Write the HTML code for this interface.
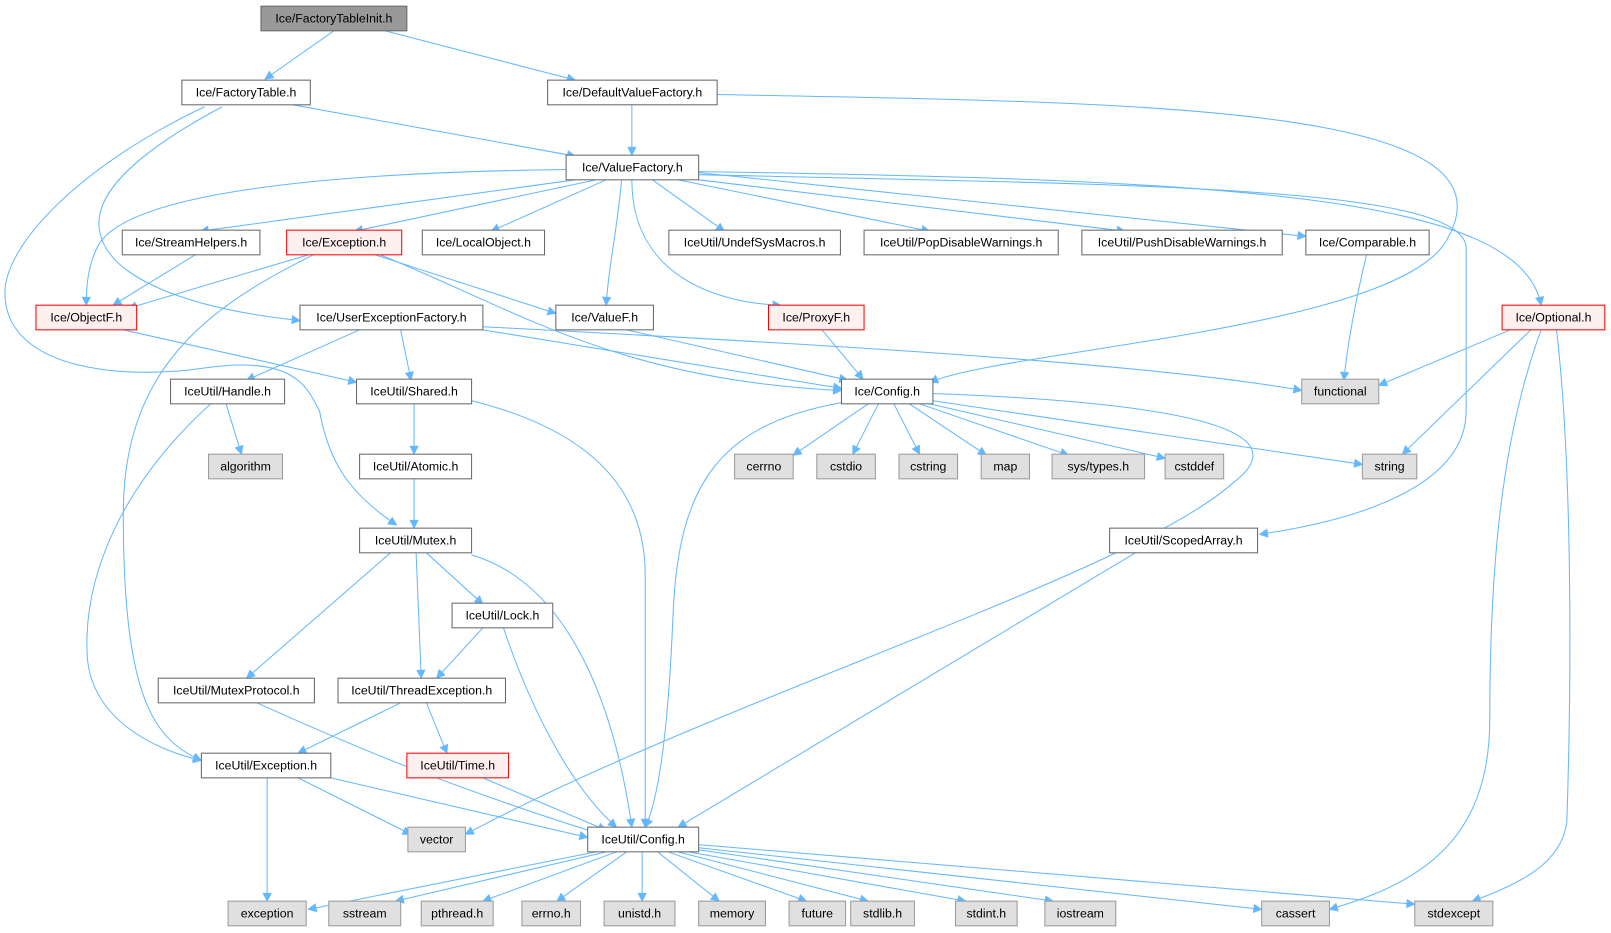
<!DOCTYPE html>
<html><head><meta charset="utf-8"><style>
html,body{margin:0;padding:0;background:#fff;}
svg{display:block}
text{font-family:"Liberation Sans",sans-serif;font-size:12px;text-anchor:middle;dominant-baseline:central;fill:#000}
.e{fill:none;stroke:#63b8ff;stroke-width:1;marker-end:url(#a)}
</style></head><body>
<svg width="1611" height="933" viewBox="0 0 1568 908" preserveAspectRatio="none">
<defs><marker id="a" viewBox="0 0 10 10" refX="9" refY="5" markerWidth="10" markerHeight="9" markerUnits="userSpaceOnUse" orient="auto"><path d="M0,0 L10,5 L0,10 z" fill="#63b8ff"/></marker></defs>
<g>
<path class="e" d="M325,30 L258,77"/>
<path class="e" d="M375,30 L560,78"/>
<path class="e" d="M285,102 L560,152"/>
<path class="e" d="M216,104 C130,150 90,190 97,225 C105,270 180,300 292,312"/>
<path class="e" d="M199,104 C80,160 0,240 5,290 C10,360 120,370 200,358 C290,345 300,380 311,400 C320,450 340,480 386,511"/>
<path class="e" d="M615,102 L615,151"/>
<path class="e" d="M698,92 C1100,100 1480,100 1410,230 C1370,320 980,340 905,372"/>
<path class="e" d="M551,165 C300,168 120,190 95,240 C85,260 84,280 84,297"/>
<path class="e" d="M560,175 L195,225"/>
<path class="e" d="M580,175 L345,225"/>
<path class="e" d="M590,175 L478,225"/>
<path class="e" d="M605,175 C600,230 592,260 590,297"/>
<path class="e" d="M635,175 L705,225"/>
<path class="e" d="M615,175 C615,270 700,295 760,297"/>
<path class="e" d="M660,175 L905,225"/>
<path class="e" d="M680,175 L1095,225"/>
<path class="e" d="M680,168 L1271,230"/>
<path class="e" d="M680,170 C1100,180 1420,180 1427,240 L1427,400 C1427,470 1330,505 1226,520"/>
<path class="e" d="M680,167 C1200,175 1480,190 1500,297"/>
<path class="e" d="M190,248 L110,297"/>
<path class="e" d="M300,248 L125,300"/>
<path class="e" d="M305,248 C200,300 120,360 120,500 C120,680 150,720 196,740"/>
<path class="e" d="M365,248 L541,305"/>
<path class="e" d="M370,248 C500,300 600,370 819,380"/>
<path class="e" d="M120,321 L347,372"/>
<path class="e" d="M350,321 L240,370"/>
<path class="e" d="M390,321 L400,370"/>
<path class="e" d="M470,321 L819,378"/>
<path class="e" d="M470,318 C700,330 1100,350 1267,380"/>
<path class="e" d="M610,321 L825,370"/>
<path class="e" d="M800,321 L840,369"/>
<path class="e" d="M830,390 C700,410 660,470 655,600 C650,720 640,780 628,805"/>
<path class="e" d="M845,393 L772,443"/>
<path class="e" d="M855,393 L830,442"/>
<path class="e" d="M870,393 L895,442"/>
<path class="e" d="M885,393 L960,443"/>
<path class="e" d="M895,393 L1040,443"/>
<path class="e" d="M905,393 L1134,446"/>
<path class="e" d="M908,390 L1326,452"/>
<path class="e" d="M908,383 C1100,390 1280,410 1200,470 C1100,560 700,680 453,812"/>
<path class="e" d="M1330,248 C1320,290 1312,330 1308,370"/>
<path class="e" d="M1470,321 L1342,375"/>
<path class="e" d="M1490,321 L1365,442"/>
<path class="e" d="M1500,321 C1460,430 1450,560 1450,700 C1450,820 1380,860 1294,885"/>
<path class="e" d="M1515,321 C1530,450 1530,650 1525,800 C1520,840 1480,860 1433,877"/>
<path class="e" d="M220,393 L235,442"/>
<path class="e" d="M205,393 C120,470 80,560 85,640 C90,700 150,730 196,740"/>
<path class="e" d="M403,393 L403,442"/>
<path class="e" d="M459,390 C580,420 628,480 628,560 L628,805"/>
<path class="e" d="M403,466 L403,514"/>
<path class="e" d="M380,538 L240,660"/>
<path class="e" d="M405,538 L410,660"/>
<path class="e" d="M415,538 L470,588"/>
<path class="e" d="M459,540 C560,570 600,700 615,805"/>
<path class="e" d="M470,611 L425,660"/>
<path class="e" d="M490,611 C520,700 560,770 600,805"/>
<path class="e" d="M250,684 C330,720 420,760 585,812"/>
<path class="e" d="M390,684 L290,733"/>
<path class="e" d="M415,684 L435,733"/>
<path class="e" d="M470,757 L590,808"/>
<path class="e" d="M260,757 L260,877"/>
<path class="e" d="M290,757 L400,812"/>
<path class="e" d="M322,757 L572,815"/>
<path class="e" d="M1105,538 L660,805"/>
<path class="e" d="M580,829 L300,885"/>
<path class="e" d="M590,829 L385,877"/>
<path class="e" d="M600,829 L470,877"/>
<path class="e" d="M610,829 L542,877"/>
<path class="e" d="M625,829 L625,877"/>
<path class="e" d="M640,829 L700,877"/>
<path class="e" d="M650,829 L785,877"/>
<path class="e" d="M660,829 L845,877"/>
<path class="e" d="M670,829 L940,877"/>
<path class="e" d="M680,827 L1025,877"/>
<path class="e" d="M680,825 L1228,885"/>
<path class="e" d="M680,822 L1377,880"/>
</g>
<g stroke-width="1">
<rect x="254" y="6" width="142" height="24" fill="#999" stroke="#666"/><text x="325" y="18">Ice/FactoryTableInit.h</text>
<rect x="177" y="78" width="125" height="24" fill="#fff" stroke="#666"/><text x="239.5" y="90">Ice/FactoryTable.h</text>
<rect x="533" y="78" width="165" height="24" fill="#fff" stroke="#666"/><text x="615.5" y="90">Ice/DefaultValueFactory.h</text>
<rect x="551" y="151" width="129" height="24" fill="#fff" stroke="#666"/><text x="615.5" y="163">Ice/ValueFactory.h</text>
<rect x="119" y="224" width="134" height="24" fill="#fff" stroke="#666"/><text x="186" y="236">Ice/StreamHelpers.h</text>
<rect x="279" y="224" width="112" height="24" fill="#fff0f0" stroke="#f00"/><text x="335" y="236">Ice/Exception.h</text>
<rect x="411" y="224" width="119" height="24" fill="#fff" stroke="#666"/><text x="470.5" y="236">Ice/LocalObject.h</text>
<rect x="651" y="224" width="167" height="24" fill="#fff" stroke="#666"/><text x="734.5" y="236">IceUtil/UndefSysMacros.h</text>
<rect x="841" y="224" width="189" height="24" fill="#fff" stroke="#666"/><text x="935.5" y="236">IceUtil/PopDisableWarnings.h</text>
<rect x="1053" y="224" width="195" height="24" fill="#fff" stroke="#666"/><text x="1150.5" y="236">IceUtil/PushDisableWarnings.h</text>
<rect x="1271" y="224" width="120" height="24" fill="#fff" stroke="#666"/><text x="1331" y="236">Ice/Comparable.h</text>
<rect x="35" y="297" width="98" height="24" fill="#fff0f0" stroke="#f00"/><text x="84" y="309">Ice/ObjectF.h</text>
<rect x="292" y="297" width="178" height="24" fill="#fff" stroke="#666"/><text x="381" y="309">Ice/UserExceptionFactory.h</text>
<rect x="541" y="297" width="95" height="24" fill="#fff" stroke="#666"/><text x="588.5" y="309">Ice/ValueF.h</text>
<rect x="748" y="297" width="93" height="24" fill="#fff0f0" stroke="#f00"/><text x="794.5" y="309">Ice/ProxyF.h</text>
<rect x="1462" y="297" width="100" height="24" fill="#fff0f0" stroke="#f00"/><text x="1512" y="309">Ice/Optional.h</text>
<rect x="166" y="369" width="111" height="24" fill="#fff" stroke="#666"/><text x="221.5" y="381">IceUtil/Handle.h</text>
<rect x="347" y="369" width="112" height="24" fill="#fff" stroke="#666"/><text x="403" y="381">IceUtil/Shared.h</text>
<rect x="819" y="369" width="89" height="24" fill="#fff" stroke="#666"/><text x="863.5" y="381">Ice/Config.h</text>
<rect x="1267" y="369" width="75" height="24" fill="#e0e0e0" stroke="#999"/><text x="1304.5" y="381">functional</text>
<rect x="203" y="442" width="72" height="24" fill="#e0e0e0" stroke="#999"/><text x="239" y="454">algorithm</text>
<rect x="350" y="442" width="109" height="24" fill="#fff" stroke="#666"/><text x="404.5" y="454">IceUtil/Atomic.h</text>
<rect x="715" y="442" width="57" height="24" fill="#e0e0e0" stroke="#999"/><text x="743.5" y="454">cerrno</text>
<rect x="795" y="442" width="57" height="24" fill="#e0e0e0" stroke="#999"/><text x="823.5" y="454">cstdio</text>
<rect x="875" y="442" width="57" height="24" fill="#e0e0e0" stroke="#999"/><text x="903.5" y="454">cstring</text>
<rect x="955" y="442" width="47" height="24" fill="#e0e0e0" stroke="#999"/><text x="978.5" y="454">map</text>
<rect x="1024" y="442" width="90" height="24" fill="#e0e0e0" stroke="#999"/><text x="1069" y="454">sys/types.h</text>
<rect x="1134" y="442" width="57" height="24" fill="#e0e0e0" stroke="#999"/><text x="1162.5" y="454">cstddef</text>
<rect x="1326" y="442" width="53" height="24" fill="#e0e0e0" stroke="#999"/><text x="1352.5" y="454">string</text>
<rect x="350" y="514" width="109" height="24" fill="#fff" stroke="#666"/><text x="404.5" y="526">IceUtil/Mutex.h</text>
<rect x="1080" y="514" width="144" height="24" fill="#fff" stroke="#666"/><text x="1152" y="526">IceUtil/ScopedArray.h</text>
<rect x="440" y="587" width="98" height="24" fill="#fff" stroke="#666"/><text x="489" y="599">IceUtil/Lock.h</text>
<rect x="154" y="660" width="152" height="24" fill="#fff" stroke="#666"/><text x="230" y="672">IceUtil/MutexProtocol.h</text>
<rect x="329" y="660" width="163" height="24" fill="#fff" stroke="#666"/><text x="410.5" y="672">IceUtil/ThreadException.h</text>
<rect x="196" y="733" width="126" height="24" fill="#fff" stroke="#666"/><text x="259" y="745">IceUtil/Exception.h</text>
<rect x="396" y="733" width="99" height="24" fill="#fff0f0" stroke="#f00"/><text x="445.5" y="745">IceUtil/Time.h</text>
<rect x="397" y="805" width="56" height="24" fill="#e0e0e0" stroke="#999"/><text x="425" y="817">vector</text>
<rect x="572" y="805" width="108" height="24" fill="#fff" stroke="#666"/><text x="626" y="817">IceUtil/Config.h</text>
<rect x="222" y="877" width="76" height="24" fill="#e0e0e0" stroke="#999"/><text x="260" y="889">exception</text>
<rect x="320" y="877" width="70" height="24" fill="#e0e0e0" stroke="#999"/><text x="355" y="889">sstream</text>
<rect x="410" y="877" width="70" height="24" fill="#e0e0e0" stroke="#999"/><text x="445" y="889">pthread.h</text>
<rect x="508" y="877" width="57" height="24" fill="#e0e0e0" stroke="#999"/><text x="536.5" y="889">errno.h</text>
<rect x="588" y="877" width="69" height="24" fill="#e0e0e0" stroke="#999"/><text x="622.5" y="889">unistd.h</text>
<rect x="680" y="877" width="65" height="24" fill="#e0e0e0" stroke="#999"/><text x="712.5" y="889">memory</text>
<rect x="768" y="877" width="55" height="24" fill="#e0e0e0" stroke="#999"/><text x="795.5" y="889">future</text>
<rect x="828" y="877" width="62" height="24" fill="#e0e0e0" stroke="#999"/><text x="859" y="889">stdlib.h</text>
<rect x="930" y="877" width="60" height="24" fill="#e0e0e0" stroke="#999"/><text x="960" y="889">stdint.h</text>
<rect x="1017" y="877" width="69" height="24" fill="#e0e0e0" stroke="#999"/><text x="1051.5" y="889">iostream</text>
<rect x="1228" y="877" width="66" height="24" fill="#e0e0e0" stroke="#999"/><text x="1261" y="889">cassert</text>
<rect x="1377" y="877" width="76" height="24" fill="#e0e0e0" stroke="#999"/><text x="1415" y="889">stdexcept</text>
</g>
</svg>
</body></html>
